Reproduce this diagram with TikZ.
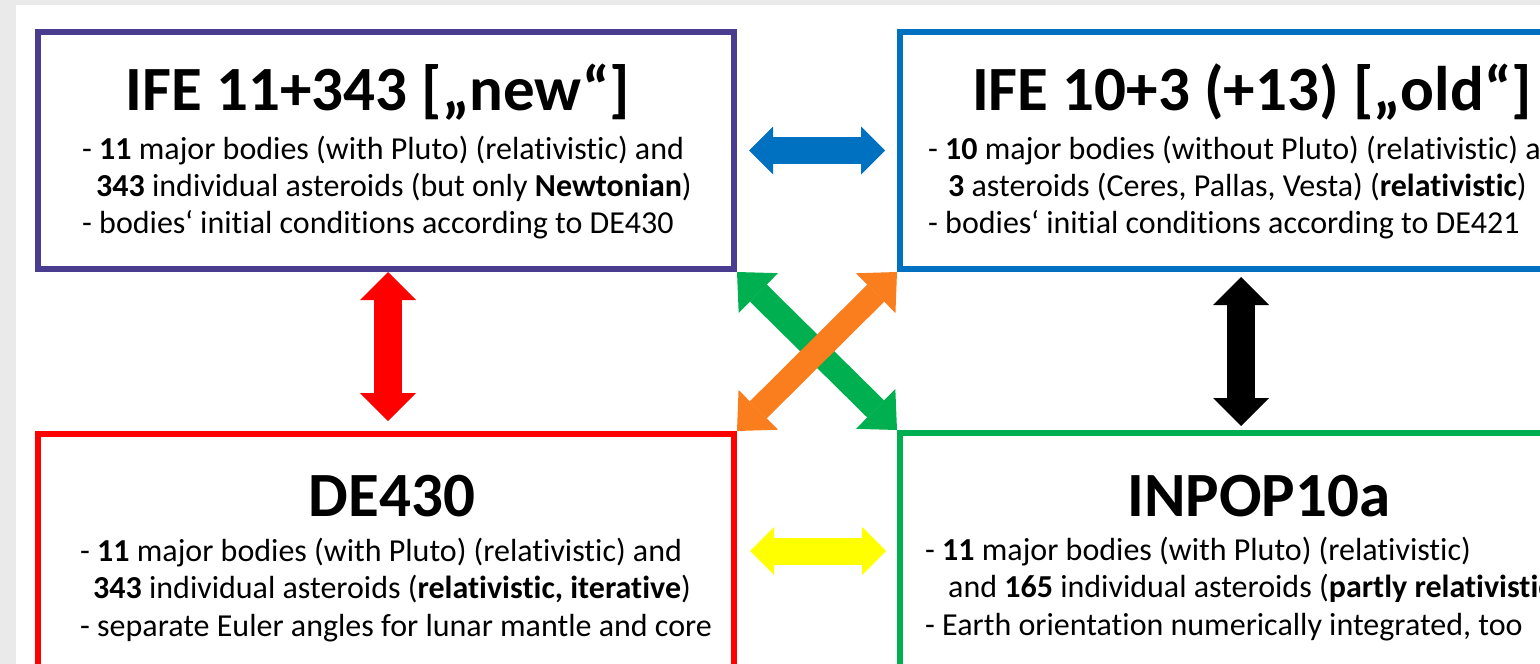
\documentclass[tikz,border=0pt]{standalone}
\usepackage{fontspec}
\setmainfont{Carlito}[Ligatures=NoCommon]
\usetikzlibrary{arrows.meta}

\definecolor{newc}{RGB}{74,60,143}
\definecolor{oldc}{RGB}{0,112,192}
\definecolor{dec}{RGB}{255,0,0}
\definecolor{inpc}{RGB}{0,176,80}
\definecolor{crossc}{RGB}{250,125,30}
\definecolor{yelc}{RGB}{255,255,0}
\definecolor{bgc}{RGB}{234,234,234}

\tikzset{
  panel/.style={draw, rectangle, line width=6pt, inner sep=0pt},
  ttl/.style={anchor=base, inner sep=0pt, font=\fontsize{63}{70}\selectfont\bfseries},
  txt/.style={anchor=base west, inner sep=0pt, font=\fontsize{32}{38}\selectfont},
  flat/.style={line width=27pt, >={Triangle[length=24pt,width=48pt,line width=0pt]}, <->},
  tall/.style={line width=28pt, >={Triangle[length=28pt,width=56pt,line width=0pt]}, <->},
  cross/.style={line width=24pt, >={Triangle[length=30pt,width=56pt,line width=0pt]}, <->}
}

\begin{document}
\begin{tikzpicture}[x=1pt,y=-1pt]

  \useasboundingbox (0,0) rectangle (1540,664);
  \clip (0,0) rectangle (1540,664);
  \fill[bgc] (0,0) rectangle (1540,664);
  \fill[white] (16,5) rectangle (1540,664);

  \node[panel, newc, minimum width=696pt, minimum height=237pt] (new) at (386,150.5) {};
  \node[panel, oldc, minimum width=682pt, minimum height=237pt] (old) at (1241,150.5) {};
  \node[panel, dec,  minimum width=696pt, minimum height=234pt] (de)  at (386,551) {};
  \node[panel, inpc, minimum width=682pt, minimum height=236pt] (inp) at (1241,551) {};

  \node[ttl] (newt) at (378,110) {IFE 11+343 [„new“]};
  \node[txt] (new1) at (82,159) {- \textbf{11} major bodies (with Pluto) (relativistic) and};
  \node[txt] (new2) at (96,196) {\textbf{343} individual asteroids (but only \textbf{Newtonian})};
  \node[txt] (new3) at (82,233) {- bodies‘ initial conditions according to DE430};

  \node[ttl] (oldt) at (1252,110) {IFE 10+3 (+13) [„old“]};
  \node[txt] (old1) at (928,159) {- \textbf{10} major bodies (without Pluto) (relativistic) and};
  \node[txt] (old2) at (948,196) {\textbf{3} asteroids (Ceres, Pallas, Vesta) (\textbf{relativistic})};
  \node[txt] (old3) at (928,233) {- bodies‘ initial conditions according to DE421};

  \node[ttl] (det) at (392,516) {DE430};
  \node[txt] (de1) at (80,561) {- \textbf{11} major bodies (with Pluto) (relativistic) and};
  \node[txt] (de2) at (93,598) {\textbf{343} individual asteroids (\textbf{relativistic, iterative})};
  \node[txt] (de3) at (80,636) {- separate Euler angles for lunar mantle and core};

  \node[ttl] (inpt) at (1259,516) {INPOP10a};
  \node[txt] (inp1) at (925,560) {- \textbf{11} major bodies (with Pluto) (relativistic)};
  \node[txt] (inp2) at (948,597) {and \textbf{165} individual asteroids (\textbf{partly relativistic})};
  \node[txt] (inp3) at (925,635) {- Earth orientation numerically integrated, too};

  \draw[flat, oldc] ([xshift=12pt]new.east) -- ([xshift=-12pt]old.west);
  \draw[flat, yelc] ([xshift=13pt]de.east) -- ([xshift=-11pt]inp.west);
  \draw[tall, dec] ([xshift=2pt]new.south) -- ([xshift=2pt,yshift=10pt]de.north);
  \draw[tall, black] ([yshift=-5pt]old.south) -- ([yshift=4pt]inp.north);
  \draw[cross, inpc] (new.south east) -- (inp.north west);
  \draw[cross, crossc] (old.south west) -- (de.north east);

\end{tikzpicture}
\end{document}
